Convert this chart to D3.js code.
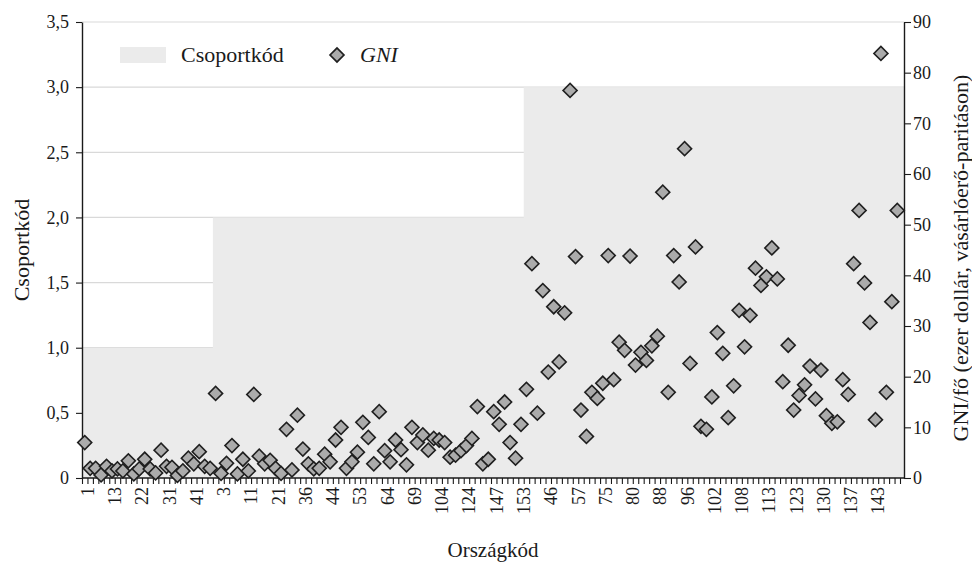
<!DOCTYPE html>
<html lang="hu">
<head>
<meta charset="UTF-8">
<title>Csoportkód és GNI</title>
<script src="https://d3js.org/d3.v7.min.js"></script>
<style>
  body { margin: 0; background: #fff; }
  text { font-family: "Liberation Serif", "DejaVu Serif", serif; fill: #1a1a1a; }
</style>
</head>
<body>
<div id="chart"></div>
<script>
// csoportkód országonként (a rendezett sorrendben)
const groupCodes = [
  1,1,1,1,1,1,1,1,1,1,1,1,1,1,1,1,1,1,1,1,1,1,1,1,
  2,2,2,2,2,2,2,2,2,2,2,2,2,2,2,2,2,2,2,2,2,2,2,2,2,2,2,2,2,2,2,2,2,2,2,2,
  2,2,2,2,2,2,2,2,2,2,2,2,2,2,2,2,2,2,2,2,2,
  3,3,3,3,3,3,3,3,3,3,3,3,3,3,3,3,3,3,3,3,3,3,3,3,3,3,3,3,3,3,3,3,3,3,3,
  3,3,3,3,3,3,3,3,3,3,3,3,3,3,3,3,3,3,3,3,3,3,3,3,3,3,3,3,3,3,3,3,3,3
];

// GNI/fő, ezer dollár (vásárlóerő-paritáson)
const gni = [
  7.0, 1.9, 1.9, 0.6, 2.3, 1.4, 1.8, 1.4, 3.4, 0.8, 1.8, 3.7, 1.8, 1.0, 5.5, 2.3,
  2.1, 0.5, 1.4, 3.9, 2.8, 5.2, 2.3, 1.9,
  16.7, 0.9, 2.9, 6.4, 0.8, 3.7, 1.4, 16.5, 4.3, 2.8, 3.5, 1.9, 0.9, 9.6, 1.6, 12.4,
  5.7, 2.8, 1.8, 1.9, 4.7, 3.2, 7.5, 10.0, 1.9, 3.2, 5.1, 11.0, 8.0, 2.8, 13.1,
  5.4, 3.2, 7.5, 5.6, 2.6, 10.0, 7.0, 8.5, 5.5, 7.8, 7.5, 7.0, 4.1, 4.5, 5.4, 6.4,
  7.8, 14.1, 2.8, 3.7, 13.1, 10.6, 15.0, 7.0, 3.9,
  10.6, 17.5, 42.3, 12.8, 37.0, 20.9, 33.8, 22.9, 32.6, 76.5, 43.7, 13.4, 8.2, 16.9,
  15.7, 18.7, 43.9, 19.4, 26.8, 25.2, 43.8, 22.3, 24.8, 23.2, 26.1, 28.0, 56.4, 16.9,
  43.9, 38.7, 65.0, 22.6, 45.6, 10.2, 9.6, 16.0, 28.7, 24.6, 11.9, 18.2, 33.1, 25.9,
  32.1, 41.4, 38.0, 39.7, 45.4, 39.3, 19.0, 26.2, 13.4, 16.3, 18.4, 22.1, 15.6, 21.3,
  12.3, 10.8, 11.1, 19.4, 16.5, 42.3, 52.8, 38.5, 30.7, 11.5, 83.8, 16.9, 34.8, 52.8
];

// országkódok, minden ötödik ország látszik a tengelyen
const tickLabels = ["1", "13", "22", "31", "41", "3", "11", "21", "36", "44", "53", "64",
  "69", "104", "124", "147", "153", "46", "57", "75", "80", "88", "96", "102", "108",
  "113", "123", "130", "137", "143"];
const labelStep = 5;

const leftTicks = [0, 0.5, 1, 1.5, 2, 2.5, 3, 3.5];
const rightTicks = [0, 10, 20, 30, 40, 50, 60, 70, 80, 90];

const W = 972, H = 563;
const margin = {top: 22, right: 68, bottom: 85, left: 82};
const x0 = margin.left, x1 = W - margin.right;
const catEnd = x1 - 4; // a kategóriák kicsit a jobb tengely előtt érnek véget
const yTop = margin.top, yBot = H - margin.bottom;

const svg = d3.select("#chart").append("svg")
  .attr("width", W).attr("height", H);

const idx = d3.range(gni.length);
const x = d3.scaleBand().domain(idx).range([x0, catEnd]).padding(0);
const xEdge = d3.scaleLinear().domain([0, gni.length]).range([x0, catEnd]);
const yL = d3.scaleLinear().domain([0, 3.5]).range([yBot, yTop]);
const yR = d3.scaleLinear().domain([0, 90]).range([yBot, yTop]);

const comma = d => d === 0 ? "0" : d3.format(".1f")(d).replace(".", ",");

// rácsvonalak
svg.append("g").selectAll("line")
  .data(leftTicks.filter(d => d > 0))
  .join("line")
  .attr("x1", x0).attr("x2", x1)
  .attr("y1", d => yL(d)).attr("y2", d => yL(d))
  .attr("stroke", "#d9d9d9").attr("stroke-width", 1.2);

// csoportkód terület (lépcsős)
const areaPts = idx.map(i => ({x: x(i), g: groupCodes[i]}));
areaPts.push({x: x1, g: groupCodes[groupCodes.length - 1]});
svg.append("path")
  .datum(areaPts)
  .attr("fill", "#ebebeb")
  .attr("d", d3.area()
    .curve(d3.curveStepAfter)
    .x(d => d.x)
    .y0(yL(0))
    .y1(d => yL(d.g)));

// bal tengely
const gL = svg.append("g")
  .attr("transform", `translate(${x0},0)`)
  .call(d3.axisLeft(yL).tickValues(leftTicks).tickFormat(comma).tickSize(6).tickSizeOuter(0));
gL.selectAll("text").style("font-size", "18px").attr("x", -13);

// jobb tengely
const gR = svg.append("g")
  .attr("transform", `translate(${x1},0)`)
  .call(d3.axisRight(yR).tickValues(rightTicks).tickSize(7).tickSizeOuter(0));
gR.selectAll("text").style("font-size", "18px").attr("x", 9);

// x tengely: osztások a sávhatárokon
const gX = svg.append("g")
  .attr("transform", `translate(0,${yBot})`)
  .call(d3.axisBottom(xEdge).tickValues(d3.range(0, gni.length + 1)).tickFormat("").tickSize(6).tickSizeOuter(0));
gX.select(".domain").attr("d", `M${x0},0H${x1}`);

svg.selectAll(".domain").attr("stroke", "#1a1a1a").attr("stroke-width", 1.4);
svg.selectAll(".tick line").attr("stroke", "#1a1a1a").attr("stroke-width", 1.1);
svg.selectAll(".tick text").attr("fill", "#1a1a1a").style("font-family", "'Liberation Serif', serif");

svg.append("g").selectAll("text")
  .data(tickLabels)
  .join("text")
  .attr("transform", (d, i) => `translate(${x(i * labelStep) + x.bandwidth() / 2 + 9},${yBot + 9}) rotate(-90)`)
  .attr("text-anchor", "end")
  .style("font-size", "18px")
  .text(d => d);

// GNI pontok
svg.append("g").selectAll("path")
  .data(idx)
  .join("path")
  .attr("transform", i => `translate(${x(i) + x.bandwidth() / 2},${yR(gni[i])}) rotate(45)`)
  .attr("d", d3.symbol(d3.symbolSquare, 98))
  .attr("fill", "#ababab")
  .attr("stroke", "#1f1f1f")
  .attr("stroke-width", 1.6);

// jelmagyarázat
svg.append("rect")
  .attr("x", 120).attr("y", 47).attr("width", 46).attr("height", 16)
  .attr("fill", "#ebebeb");
svg.append("text")
  .attr("x", 181).attr("y", 62)
  .style("font-size", "22px")
  .text("Csoportkód");
svg.append("path")
  .attr("transform", "translate(337,55) rotate(45)")
  .attr("d", d3.symbol(d3.symbolSquare, 98))
  .attr("fill", "#ababab").attr("stroke", "#1f1f1f").attr("stroke-width", 1.6);
svg.append("text")
  .attr("x", 360).attr("y", 62)
  .style("font-size", "22px")
  .style("font-style", "italic")
  .text("GNI");

// tengelycímek
svg.append("text")
  .attr("transform", "translate(29,250) rotate(-90)")
  .attr("text-anchor", "middle")
  .style("font-size", "22px")
  .text("Csoportkód");

svg.append("text")
  .attr("transform", "translate(968,258) rotate(-90)")
  .attr("text-anchor", "middle")
  .style("font-size", "22px")
  .text("GNI/fő (ezer dollár, vásárlóerő-paritáson)");

svg.append("text")
  .attr("x", 493).attr("y", 557)
  .attr("text-anchor", "middle")
  .style("font-size", "21px")
  .text("Országkód");
</script>
</body>
</html>
